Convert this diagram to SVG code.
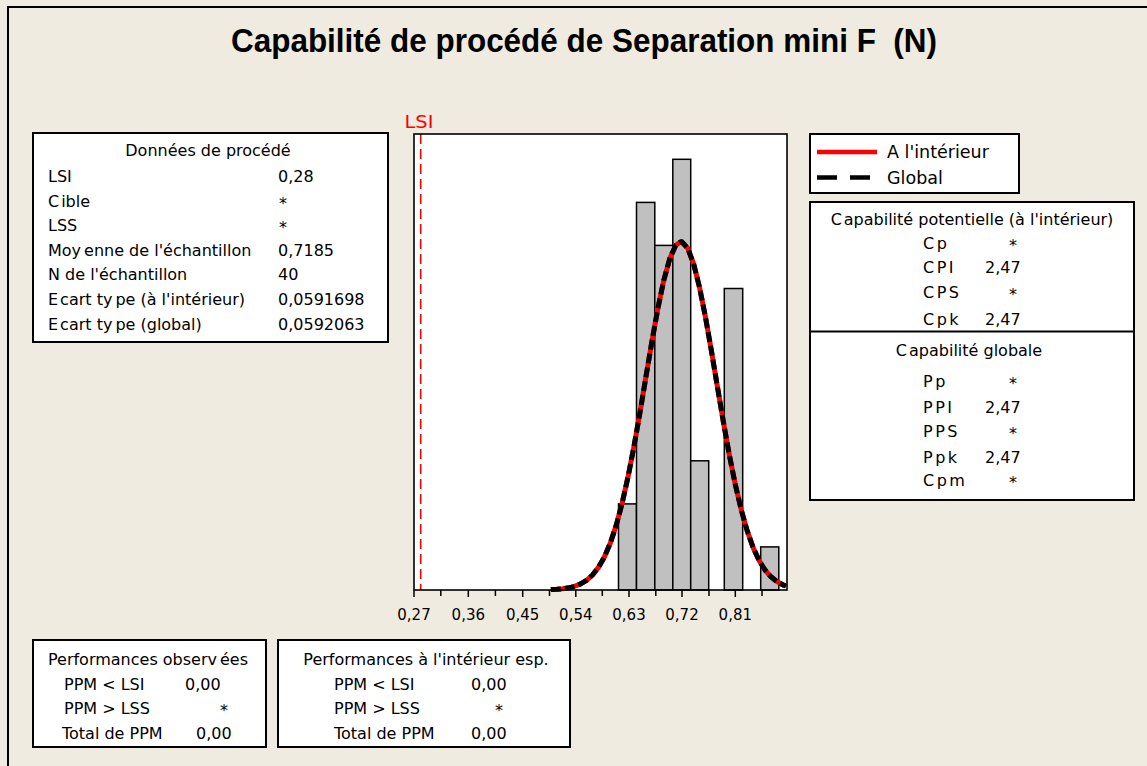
<svg xmlns="http://www.w3.org/2000/svg" width="1147" height="766" viewBox="0 0 1147 766">
<style>
.t{font-family:"DejaVu Sans","Liberation Sans",sans-serif;font-size:16px;fill:#000}
.ax{font-family:"DejaVu Sans","Liberation Sans",sans-serif;font-size:15px;fill:#000;text-anchor:middle}
.lg{font-family:"DejaVu Sans","Liberation Sans",sans-serif;font-size:17.5px;fill:#000}
.ls{letter-spacing:2.5px}
.box{fill:#fff;stroke:#000;stroke-width:2}
.bar{fill:#c0c0c0;stroke:#000;stroke-width:1.5}
.mid{text-anchor:middle}
</style>
<rect x="0" y="0" width="1147" height="766" fill="#efebe1"/>
<path d="M8,770 V7 H1150" fill="none" stroke="#000" stroke-width="2"/>
<g id="title">
<text x="231" y="52" font-family="'Liberation Sans',Arial,sans-serif" font-weight="bold" font-size="34" textLength="706" lengthAdjust="spacingAndGlyphs" style="white-space:pre">Capabilité de procédé de Separation mini F  (N)</text>
</g>
<g id="process-data">
<rect class="box" x="33" y="133" width="355" height="209"/>
<text class="t mid" x="208" y="156">Données de procédé</text>
<text class="t" x="48" y="182">LSI</text><text class="t" x="278" y="182">0,28</text>
<text class="t" x="48" y="207">C<tspan dx="2">ible</tspan></text><text class="t" x="279" y="209">*</text>
<text class="t" x="48" y="231">LSS</text><text class="t" x="279" y="233">*</text>
<text class="t" x="48" y="256">Moy<tspan dx="3">enne de l'échantillon</tspan></text><text class="t" x="278" y="256">0,7185</text>
<text class="t" x="48" y="280">N de l'échantillon</text><text class="t" x="278" y="280">40</text>
<text class="t" x="48" y="305">E<tspan dx="2">cart ty</tspan><tspan dx="3">pe (à l'intérieur)</tspan></text><text class="t" x="278" y="305">0,0591698</text>
<text class="t" x="48" y="330">E<tspan dx="2">cart ty</tspan><tspan dx="3">pe (global)</tspan></text><text class="t" x="278" y="330">0,0592063</text>
</g>
<g id="plot">
<rect x="414" y="134" width="373" height="456" fill="#fff"/>
<g id="bars">
<rect class="bar" x="618.5" y="503.9" width="18" height="86.1"/>
<rect class="bar" x="636.5" y="202.4" width="18.3" height="387.6"/>
<rect class="bar" x="654.8" y="245.4" width="18" height="344.6"/>
<rect class="bar" x="672.8" y="159.3" width="17.9" height="430.7"/>
<rect class="bar" x="690.7" y="460.8" width="18" height="129.2"/>
<rect class="bar" x="724.3" y="288.5" width="18.4" height="301.5"/>
<rect class="bar" x="760.7" y="546.9" width="18.1" height="43.1"/>
</g>
<line id="lsi-line" x1="420.7" y1="134" x2="420.7" y2="590" stroke="#ff0000" stroke-width="1.6" stroke-dasharray="10 5"/>
<g id="curves" fill="none" stroke-width="5" stroke-linejoin="round">
<polyline id="curve-within" stroke="#ff0000" points="550.85,589.6 556.8,589.3 562.75,588.7 568.7,587.8 574.65,586.3 580.6,583.9 586.55,580.3 592.5,575 598.45,567.4 604.4,557 610.35,543 616.3,525.1 622.25,502.7 628.2,476.1 634.15,445.4 640.1,411.7 646.05,376.2 652,341 657.95,308.1 663.9,279.8 669.85,258.3 675.8,245.3 680.86,241.7 681.75,241.8 687.7,248.2 693.65,263.9 699.6,287.7 705.55,317.6 711.5,351.4 717.45,387 723.4,422 729.35,455 735.3,484.5 741.25,509.9 747.2,530.9 753.15,547.6 759.1,560.5 765.05,570 771,576.8 776.95,581.6 782.9,584.8 786,586"/>
<polyline id="curve-overall" stroke="#000" stroke-dasharray="10 4" points="550.85,589.6 556.8,589.3 562.75,588.7 568.7,587.8 574.65,586.3 580.6,583.9 586.55,580.3 592.5,575 598.45,567.4 604.4,557 610.35,543 616.3,525.1 622.25,502.7 628.2,476.1 634.15,445.4 640.1,411.7 646.05,376.2 652,341 657.95,308.1 663.9,279.8 669.85,258.3 675.8,245.3 680.86,241.7 681.75,241.8 687.7,248.2 693.65,263.9 699.6,287.7 705.55,317.6 711.5,351.4 717.45,387 723.4,422 729.35,455 735.3,484.5 741.25,509.9 747.2,530.9 753.15,547.6 759.1,560.5 765.05,570 771,576.8 776.95,581.6 782.9,584.8 786,586"/>
</g>
<rect x="414" y="134" width="373" height="456" fill="none" stroke="#000" stroke-width="1.6"/>
<g id="ticks" stroke="#000" stroke-width="1.5">
<line x1="414" y1="590" x2="414" y2="597"/>
<line x1="440.8" y1="590" x2="440.8" y2="596"/>
<line x1="468.3" y1="590" x2="468.3" y2="597"/>
<line x1="495.4" y1="590" x2="495.4" y2="596"/>
<line x1="522.7" y1="590" x2="522.7" y2="597"/>
<line x1="549.5" y1="590" x2="549.5" y2="596"/>
<line x1="575.8" y1="590" x2="575.8" y2="597"/>
<line x1="602.3" y1="590" x2="602.3" y2="596"/>
<line x1="629" y1="590" x2="629" y2="597"/>
<line x1="655.8" y1="590" x2="655.8" y2="596"/>
<line x1="682" y1="590" x2="682" y2="597"/>
<line x1="709" y1="590" x2="709" y2="596"/>
<line x1="735.3" y1="590" x2="735.3" y2="597"/>
<line x1="762" y1="590" x2="762" y2="596"/>
</g>
<g id="axis-labels">
<text class="ax" x="414" y="620">0,27</text>
<text class="ax" x="468.3" y="620">0,36</text>
<text class="ax" x="522.7" y="620">0,45</text>
<text class="ax" x="575.8" y="620">0,54</text>
<text class="ax" x="629" y="620">0,63</text>
<text class="ax" x="682" y="620">0,72</text>
<text class="ax" x="735.3" y="620">0,81</text>
</g>
<text id="lsi-label" x="404.5" y="128" font-family="'DejaVu Sans','Liberation Sans',sans-serif" font-size="18" fill="#ff0000" textLength="29" lengthAdjust="spacingAndGlyphs">LSI</text>
</g>
<g id="legend">
<rect class="box" x="810" y="134" width="209" height="59"/>
<line x1="817" y1="152" x2="877" y2="152" stroke="#ff0000" stroke-width="4.5"/>
<line x1="817" y1="177.5" x2="877" y2="177.5" stroke="#000" stroke-width="4.5" stroke-dasharray="20 13"/>
<text class="lg" x="887" y="158">A l'intérieur</text>
<text class="lg" x="887" y="184">Global</text>
</g>
<g id="capability">
<rect class="box" x="810" y="202" width="324" height="298"/>
<line x1="810" y1="331.5" x2="1134" y2="331.5" stroke="#000" stroke-width="2"/>
<text class="t mid" x="972" y="225">C<tspan dx="2">apabilité potentielle (à l'intérieur)</tspan></text>
<text class="t ls" x="923" y="249">Cp</text><text class="t" x="1009" y="251">*</text>
<text class="t ls" x="923" y="273">CPI</text><text class="t" x="985" y="273">2,47</text>
<text class="t ls" x="923" y="298">CPS</text><text class="t" x="1009" y="300">*</text>
<text class="t ls" x="923" y="325">Cpk</text><text class="t" x="985" y="325">2,47</text>
<text class="t mid" x="969" y="356">C<tspan dx="2">apabilité globale</tspan></text>
<text class="t ls" x="923" y="387">Pp</text><text class="t" x="1009" y="389">*</text>
<text class="t ls" x="923" y="413">PPI</text><text class="t" x="985" y="413">2,47</text>
<text class="t ls" x="923" y="437">PPS</text><text class="t" x="1009" y="439">*</text>
<text class="t ls" x="923" y="463">Ppk</text><text class="t" x="985" y="463">2,47</text>
<text class="t ls" x="923" y="486">Cpm</text><text class="t" x="1009" y="488">*</text>
</g>
<g id="perf-observed">
<rect class="box" x="33" y="640" width="233" height="107"/>
<text class="t mid" x="148" y="665">Performances observ<tspan dx="3">ées</tspan></text>
<text class="t" x="64" y="690">PPM &lt; LSI</text><text class="t" x="185" y="690">0,00</text>
<text class="t" x="64" y="714">PPM &gt; LSS</text><text class="t" x="220" y="716">*</text>
<text class="t" x="62" y="739">Total de PPM</text><text class="t" x="196" y="739">0,00</text>
</g>
<g id="perf-within">
<rect class="box" x="278" y="640" width="292" height="107"/>
<text class="t mid" x="426" y="665">Performances à l'intérieur esp.</text>
<text class="t" x="334" y="690">PPM &lt; LSI</text><text class="t" x="471" y="690">0,00</text>
<text class="t" x="334" y="714">PPM &gt; LSS</text><text class="t" x="495" y="716">*</text>
<text class="t" x="334" y="739">Total de PPM</text><text class="t" x="471" y="739">0,00</text>
</g>
</svg>
